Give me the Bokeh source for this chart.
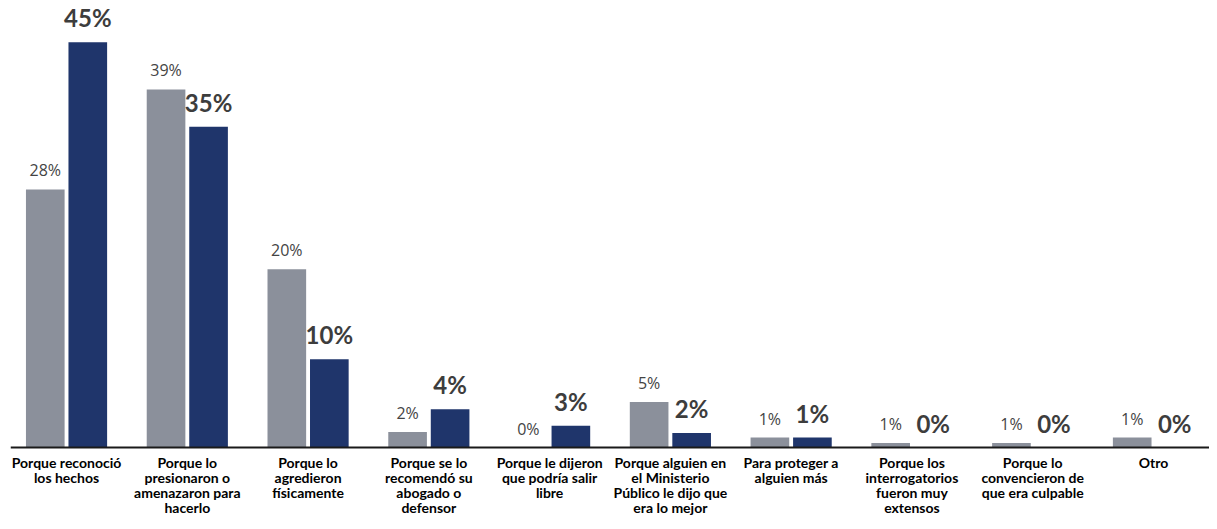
from bokeh.plotting import figure
from bokeh.models import ColumnDataSource, FactorRange
from bokeh.transform import dodge
from bokeh.core.properties import value
from bokeh.embed import file_html
from bokeh.resources import INLINE

categories = [
    "Porque reconoció\nlos hechos",
    "Porque lo\npresionaron o\namenazaron para\nhacerlo",
    "Porque lo\nagredieron\nfísicamente",
    "Porque se lo\nrecomendó su\nabogado o\ndefensor",
    "Porque le dijeron\nque podría salir\nlibre",
    "Porque alguien en\nel Ministerio\nPúblico le dijo que\nera lo mejor",
    "Para proteger a\nalguien más",
    "Porque los\ninterrogatorios\nfueron muy\nextensos",
    "Porque lo\nconvencieron de\nque era culpable",
    "Otro",
]
# bar heights (percent)
gray_values = [28.4, 39.4, 19.6, 1.7, 0.0, 5.0, 1.1, 0.5, 0.5, 1.1]
navy_values = [44.6, 35.3, 9.7, 4.2, 2.4, 1.6, 1.1, 0.0, 0.0, 0.0]
# printed labels
gray_labels = ["28%", "39%", "20%", "2%", "0%", "5%", "1%", "1%", "1%", "1%"]
navy_labels = ["45%", "35%", "10%", "4%", "3%", "2%", "1%", "0%", "0%", "0%"]

GRAY = "#8B909B"
NAVY = "#1F356B"

src = ColumnDataSource(dict(cat=categories, g=gray_values, n=navy_values,
                            gl=gray_labels, nl=navy_labels))

p = figure(x_range=FactorRange(factors=categories, range_padding=-0.036,
                               range_padding_units="absolute"),
           y_range=(-8.14, 49.18), width=1209, height=521,
           output_backend="svg", toolbar_location=None,
           min_border_left=10, min_border_right=0, min_border_top=0,
           min_border_bottom=0)

off = 0.176
bw = 0.32
p.vbar(x=dodge("cat", -off, range=p.x_range), top="g", width=bw, bottom=0,
       source=src, fill_color=GRAY, line_color=None)
p.vbar(x=dodge("cat", off, range=p.x_range), top="n", width=bw, bottom=0,
       source=src, fill_color=NAVY, line_color=None)

p.text(x=dodge("cat", -off, range=p.x_range), y="g", text="gl", source=src,
       text_align="center", text_baseline="bottom", y_offset=-8,
       text_font=value("Open Sans"), text_font_size="16px",
       text_color="#444444")
p.text(x=dodge("cat", off, range=p.x_range), y="n", text="nl", source=src,
       text_align="center", text_baseline="bottom", y_offset=-10,
       text_font=value("Lato"), text_font_style="bold",
       text_font_size="24px", text_color="#3d3d3d")

p.yaxis.visible = False
p.xgrid.visible = False
p.ygrid.visible = False
p.outline_line_color = None

ax = p.xaxis[0]
ax.fixed_location = 0
ax.axis_line_color = "#1a1a1a"
ax.axis_line_width = 2
ax.major_tick_line_color = None
ax.minor_tick_line_color = None
ax.major_label_standoff = 0
ax.major_label_text_font = "Lato"
ax.major_label_text_font_style = "bold"
ax.major_label_text_font_size = "14px"
ax.major_label_text_color = "#000000"
ax.major_label_text_line_height = 0.9

open("out.html", "w").write(file_html(p, INLINE))
